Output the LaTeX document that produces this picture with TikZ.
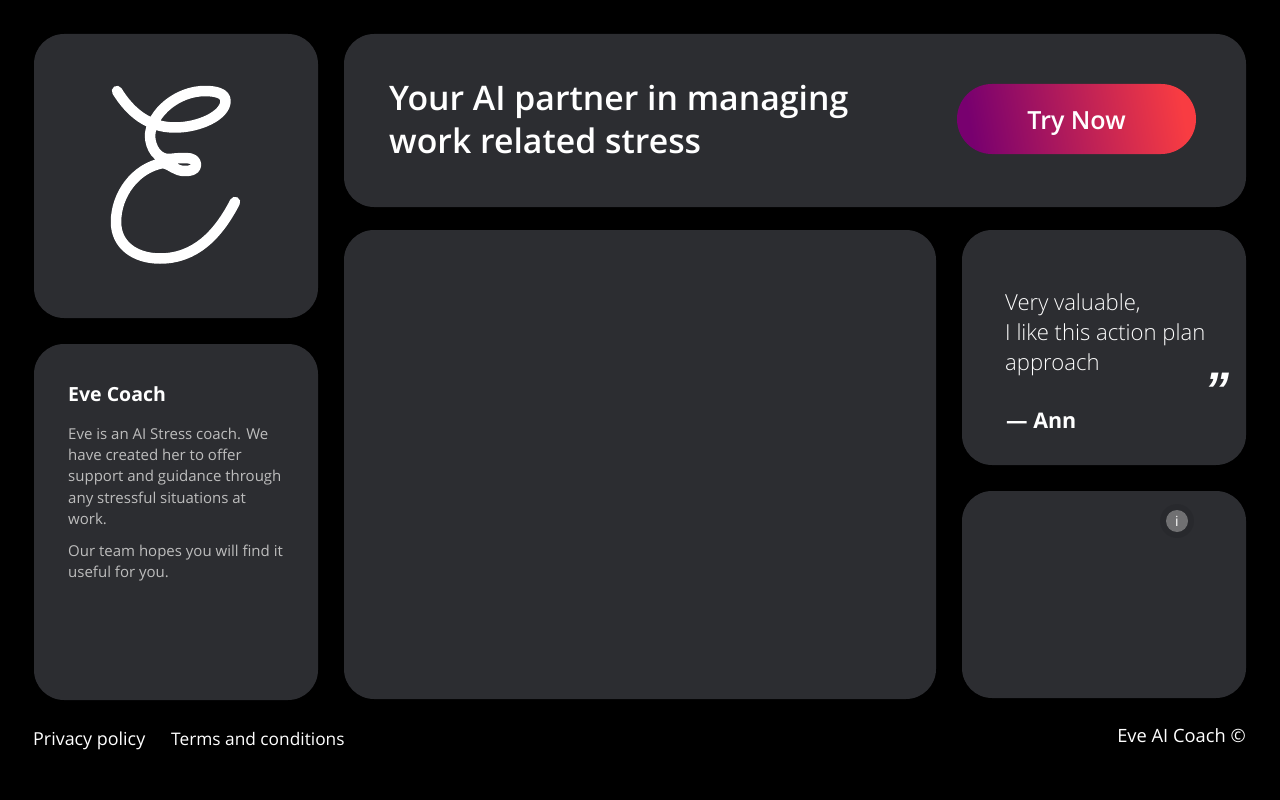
\documentclass[tikz,border=0pt]{standalone}
\usepackage{fontspec}
\setmainfont{Open Sans}
\newfontfamily\lightfont{Open Sans Light}
\newfontfamily\semifont{Open Sans Semibold}
\newfontfamily\markfont{Liberation Sans}
\definecolor{panelgrey}{HTML}{2C2D31}
\definecolor{bodygrey}{HTML}{BDBDBD}
\definecolor{infogrey}{HTML}{707072}
\definecolor{btnleft}{HTML}{78006F}
\definecolor{btnright}{HTML}{F83C42}
\begin{document}
\begin{tikzpicture}[x=1pt,y=-1pt,
	panel/.style={fill=panelgrey, rounded corners=30pt, inner sep=0pt, minimum width=#1},
	label/.style={text=white, inner sep=0pt, anchor=base west, align=left},
	body/.style={text=bodygrey, inner sep=0pt, anchor=base west, font=\fontsize{15}{21.2}\selectfont}]
	\fill[black] (0,0) rectangle (1280,800);
	\useasboundingbox (0,0) rectangle (1280,800);
	% panels
	\draw (176,176) node[panel=284pt, minimum height=284pt](logo) {};
	\draw (795,120.5) node[panel=902pt, minimum height=173pt](banner) {};
	\draw (176,522) node[panel=284pt, minimum height=356pt](about) {};
	\draw (640,464.5) node[panel=592pt, minimum height=469pt](video) {};
	\draw (1104,347.5) node[panel=284pt, minimum height=235pt](quote) {};
	\draw (1104,594.5) node[panel=284pt, minimum height=207pt](extra) {};
	% logo
	\draw[white, line width=10.5pt, line cap=round, line join=round] (117,91) .. controls (130,112) and (148,127.5) .. (175,127.5) .. controls (200,127.5) and (225.5,115) .. (225.5,101) .. controls (225.5,93) and (215,91) .. (205,91) .. controls (178,91) and (152,112) .. (150,135) .. controls (150,148) and (158,160) .. (170,159) .. controls (178,158) and (182,158) .. (186,158) .. controls (193,158) and (196,161) .. (196,165) .. controls (196,170) and (190,171) .. (185,171) .. controls (175,171) and (172,165) .. (163,163) .. controls (135,168) and (116,195) .. (116,222) .. controls (116,245) and (135,258.5) .. (160,258.5) .. controls (195,258.5) and (218,235) .. (235,202);
	% banner
	\draw (389,110.5) node[label, font=\fontsize{33.8}{43}\selectfont\semifont](title) {Your AI partner in managing};
	\draw (389,153.5) node[label, font=\fontsize{33.8}{43}\selectfont\semifont](title2) {work related stress};
	\draw (1076.5,119) node[left color=btnleft, right color=btnright, shading angle=100, rounded corners=34.9pt, minimum width=239pt, minimum height=70pt, inner sep=0pt](btn) {};
	\draw (1076.5,129) node[label, anchor=base, font=\fontsize{25}{30}\selectfont\semifont](btntext) {Try Now};
	% about
	\draw (68,401) node[label, font=\fontsize{19.5}{24}\selectfont\bfseries](name) {Eve Coach};
	\draw (68,439) node[body](b1) {Eve is an AI Stress coach. We};
	\draw (68,460) node[body](b2) {have created her to offer};
	\draw (68,481.5) node[body](b3) {support and guidance through};
	\draw (68,503) node[body](b4) {any stressful situations at};
	\draw (68,524) node[body](b5) {work.};
	\draw (68,556) node[body](b6) {Our team hopes you will find it};
	\draw (68,577) node[body](b7) {useful for you.};
	% quote
	\draw (1005,310) node[label, font=\fontsize{22.1}{30}\selectfont\lightfont](q1) {Very valuable,};
	\draw (1005,340) node[label, font=\fontsize{22.1}{30}\selectfont\lightfont](q2) {I like this action plan};
	\draw (1005,370) node[label, font=\fontsize{22.1}{30}\selectfont\lightfont](q3) {approach};
	\draw (1006,428) node[label, font=\fontsize{21.5}{26}\selectfont\bfseries](who) {— Ann};
	\draw (1217,407) node[label, anchor=base, font=\fontsize{50}{50}\selectfont\markfont\bfseries\itshape](mark) {”};
	% info
	\draw (1177,521) node[circle, fill=black, opacity=0.07, minimum size=34pt, inner sep=0pt](glow) {};
	\draw (1177,521) node[circle, fill=infogrey, minimum size=22pt, inner sep=0pt, text=white, font=\fontsize{14}{14}\selectfont](info) {i};
	% footer
	\draw (33,745) node[label, font=\fontsize{17.9}{22}\selectfont](privacy) {Privacy policy};
	\draw (171,745) node[label, font=\fontsize{17.3}{22}\selectfont](terms) {Terms and conditions};
	\draw (1246,742) node[label, anchor=base east, font=\fontsize{18.3}{22}\selectfont](copy) {Eve AI Coach ©};
\end{tikzpicture}
\end{document}
